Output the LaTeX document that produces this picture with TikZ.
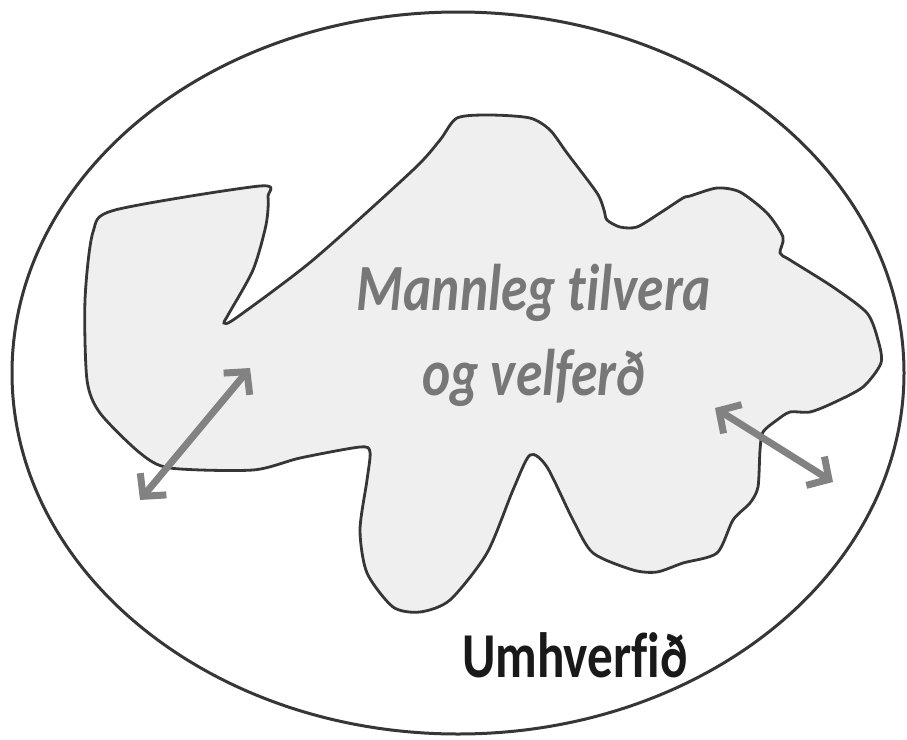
\documentclass[tikz,border=0pt]{standalone}
\usepackage{fontspec}
\newfontfamily\calibri[RawFeature=-liga]{Carlito}
\usetikzlibrary{arrows.meta}
\definecolor{bordo}{HTML}{363636}
\definecolor{riempi}{HTML}{EFEFEF}
\definecolor{freccia}{HTML}{828282}
\definecolor{scritta}{HTML}{777777}

\begin{document}
\begin{tikzpicture}[x=1pt,y=-1pt,
  frecciaDoppia/.style={<->,>={Straight Barb[length=16pt,width=34pt]},line width=7pt,draw=freccia},
  titolo/.style={anchor=base,xscale=0.81,text=scritta,font=\calibri\bfseries\itshape\fontsize{66}{68}\selectfont},
  ambiente/.style={anchor=base,xscale=0.80,text=black!90,font=\calibri\bfseries\fontsize{64}{66}\selectfont}]

\useasboundingbox (0,0) rectangle (907,739);

% --- ellisse esterna
\draw[bordo,line width=3pt] (458,373) ellipse [x radius=446, y radius=361];

% --- sagoma centrale
\draw[bordo,line width=2.8pt,fill=riempi] plot[smooth cycle,tension=0.45] coordinates {
  (85,300) (93,232) (115,210) (260,186) (268,197) (266,225) (253,270) (228,315) (224,323)
  (236,318) (313,260) (413,170) (440,140) (457,118) (490,115) (530,118) (550,130)
  (567,153) (597,193) (604,210) (607,220) (620,227) (637,227) (660,213) (683,198)
  (690,196) (717,188) (740,192) (767,213) (783,237) (780,253) (790,260) (833,287)
  (867,313) (878,340) (881,363) (863,387) (833,403) (810,412) (790,412) (777,420)
  (763,432) (760,450) (758,487) (750,503) (733,520) (717,553) (683,563) (657,572)
  (633,570) (593,553) (573,520) (547,467) (530,455) (513,490) (487,553) (450,600)
  (420,612) (393,607) (367,573) (360,530) (367,480) (370,452) (360,447) (300,458)
  (253,470) (170,468) (140,453) (100,413) (87,380)};

% --- testi
\node[titolo] (riga1) at (534,310) {Mannleg tilvera};
\node[titolo] (riga2) at (534,395) {og velferð};
\node[ambiente] (umhverfi) at (575,677) {Umhverfið};

% --- frecce
\coordinate (sxBasso) at (140,500);
\coordinate (sxAlto) at (250,368);
\coordinate (dxAlto) at (715,408);
\coordinate (dxBasso) at (833,482);
\draw[frecciaDoppia] (sxBasso) -- (sxAlto);
\draw[frecciaDoppia] (dxAlto) -- (dxBasso);

\end{tikzpicture}
\end{document}
